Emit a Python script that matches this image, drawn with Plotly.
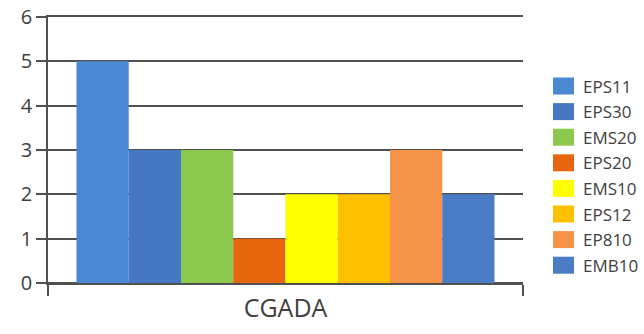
import plotly.graph_objects as go

category = ["CGADA"]
series_names = ["EPS11", "EPS30", "EMS20", "EPS20", "EMS10", "EPS12", "EP810", "EMB10"]
series_values = [5, 3, 3, 1, 2, 2, 3, 2]
series_colors = ["#4A88D4", "#4677C2", "#8CC84B", "#E8650F", "#FFFF00", "#FFC000", "#F59448", "#4A7CC6"]
y_ticks = [0, 1, 2, 3, 4, 5, 6]

AXIS_GREY = "#505050"
TEXT_GREY = "#404040"

# plot-area geometry in pixels
W, H = 644, 334
ML, MR, MT, MB = 48, 121, 17, 51
PW, PH = W - ML - MR, H - MT - MB


def px_to_paper(px, py):
    return (px - ML) / PW, (H - MB - py) / PH


fig = go.Figure()
for name, val, col in zip(series_names, series_values, series_colors):
    fig.add_trace(go.Bar(x=category, y=[val], name=name, showlegend=False,
                         marker=dict(color=col, line=dict(width=0))))

# legend to the right of the plot: square swatch + label per series
for i, (name, col) in enumerate(zip(series_names, series_colors)):
    cy = 86 + i * 25.6
    x0, y0 = px_to_paper(553, cy + 8.5)
    x1, y1 = px_to_paper(574, cy - 8.5)
    fig.add_shape(type="rect", xref="paper", yref="paper", x0=x0, x1=x1, y0=y0, y1=y1,
                  fillcolor=col, line=dict(width=0))
    tx, ty = px_to_paper(581, cy)
    fig.add_annotation(xref="paper", yref="paper", x=tx, y=ty, text=name, showarrow=False,
                       xanchor="left", yanchor="middle",
                       font=dict(size=17, color=TEXT_GREY))

fig.update_layout(
    width=W, height=H,
    margin=dict(l=ML, r=MR, t=MT, b=MB),
    paper_bgcolor="white", plot_bgcolor="white",
    barmode="group", bargap=0.12, bargroupgap=0,
    font=dict(family="Open Sans, DejaVu Sans, sans-serif", color=TEXT_GREY),
    showlegend=False,
    xaxis=dict(showline=True, mirror=True, linecolor=AXIS_GREY, linewidth=2,
               tickson="boundaries", ticks="outside", ticklen=11, tickwidth=1.5,
               tickcolor=AXIS_GREY, tickfont=dict(size=25, color=TEXT_GREY),
               ticklabelstandoff=2, showgrid=False, automargin=False),
    yaxis=dict(range=[0, 6], tickvals=y_ticks, showgrid=True, gridcolor=AXIS_GREY,
               gridwidth=2, showline=True, linecolor=AXIS_GREY, linewidth=1.5,
               ticks="outside", ticklen=10, tickcolor=AXIS_GREY, tickwidth=1.5,
               tickfont=dict(size=20, color=TEXT_GREY), zeroline=True,
               zerolinecolor=AXIS_GREY, zerolinewidth=2, automargin=False),
)

fig.write_html("out.html")
